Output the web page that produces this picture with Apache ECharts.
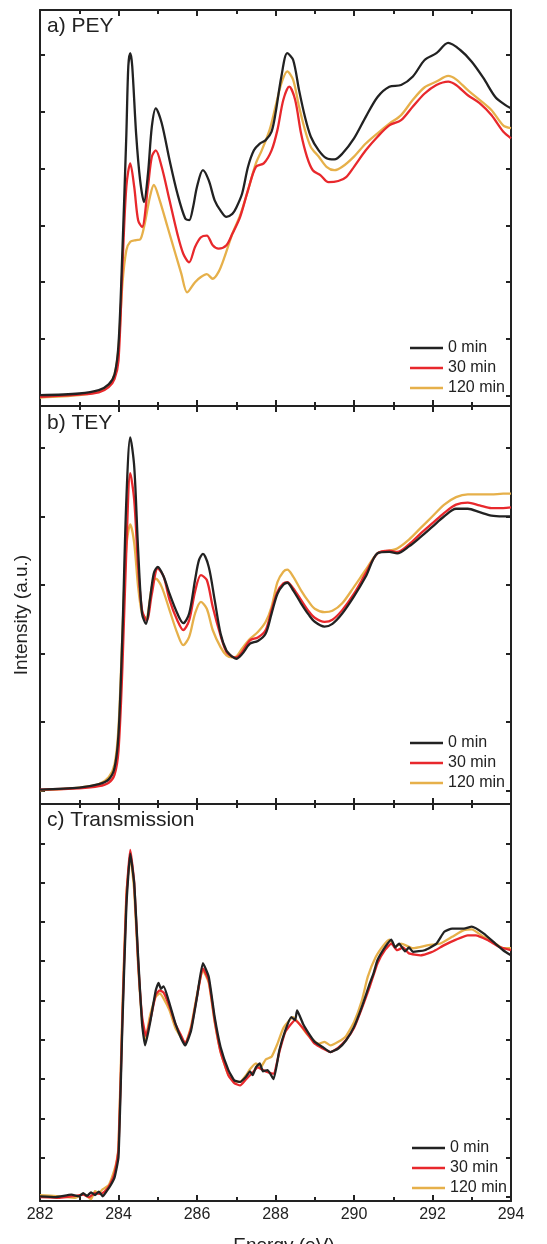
<!DOCTYPE html>
<html>
<head>
<meta charset="utf-8">
<title>NEXAFS spectra</title>
<script src="https://cdn.jsdelivr.net/npm/echarts@6/dist/echarts.min.js"></script>
<style>
  html, body { margin: 0; padding: 0; background: #fff; }
  #chart { width: 547px; height: 1244px; }
</style>
</head>
<body>
<div id="chart"></div>
<script>
// energy axis (eV)
const energyTicks = [282, 284, 286, 288, 290, 292, 294]
const seriesNames = ['0 min', '30 min', '120 min']
const panelTitles = ['a) PEY', 'b) TEY', 'c) Transmission']

// y tick positions (arbitrary units, no labels)
const peyTicks = [0, 1, 2, 3, 4, 5, 6]
const teyTicks = [0, 1, 2, 3, 4, 5]
const trTicks = [0, 1, 2, 3, 4, 5, 6, 7, 8, 9]

// a) PEY  [energy, intensity]
const pey0 = [[282,0.01],[283,0.04],[283.5,0.1],[283.75,0.2],[283.9,0.38],[284.0,0.9],[284.1,2.56],[284.2,4.6],[284.25,5.8],[284.3,6.03],[284.35,5.8],[284.45,4.6],[284.55,3.8],[284.65,3.41],[284.75,3.9],[284.85,4.74],[284.95,5.06],[285.1,4.8],[285.3,4.15],[285.5,3.56],[285.7,3.12],[285.8,3.09],[285.9,3.32],[286.0,3.68],[286.15,3.97],[286.3,3.79],[286.45,3.44],[286.6,3.26],[286.75,3.15],[286.9,3.2],[287.0,3.31],[287.15,3.56],[287.3,4.03],[287.45,4.32],[287.6,4.44],[287.75,4.5],[287.9,4.65],[288.0,4.97],[288.15,5.62],[288.3,6.03],[288.45,5.91],[288.6,5.38],[288.75,4.91],[288.9,4.56],[289.1,4.32],[289.3,4.18],[289.5,4.16],[289.7,4.26],[290.0,4.53],[290.3,4.91],[290.6,5.26],[290.9,5.44],[291.2,5.47],[291.5,5.62],[291.8,5.91],[292.1,6.03],[292.4,6.21],[292.7,6.09],[293.0,5.88],[293.3,5.59],[293.6,5.26],[293.85,5.12],[294,5.06]]
const pey30 = [[282,-0.02],[283,0.02],[283.5,0.06],[283.75,0.15],[283.9,0.3],[284.0,0.62],[284.1,2.26],[284.2,3.68],[284.3,4.09],[284.4,3.68],[284.5,3.09],[284.6,2.97],[284.75,3.68],[284.85,4.21],[284.95,4.32],[285.1,4.03],[285.3,3.44],[285.5,2.85],[285.65,2.5],[285.8,2.35],[285.95,2.62],[286.1,2.79],[286.25,2.82],[286.4,2.65],[286.55,2.59],[286.75,2.65],[286.9,2.85],[287.1,3.15],[287.3,3.62],[287.5,4.03],[287.7,4.09],[287.9,4.32],[288.05,4.68],[288.2,5.21],[288.35,5.44],[288.5,5.21],[288.65,4.62],[288.8,4.21],[288.95,3.97],[289.15,3.88],[289.35,3.76],[289.6,3.78],[289.8,3.85],[290.0,4.03],[290.3,4.32],[290.6,4.56],[290.9,4.76],[291.2,4.85],[291.5,5.09],[291.8,5.32],[292.1,5.47],[292.4,5.53],[292.6,5.47],[292.9,5.29],[293.2,5.15],[293.5,4.94],[293.8,4.65],[294,4.53]]
const pey120 = [[282,-0.03],[283,0.01],[283.5,0.08],[283.75,0.18],[283.9,0.38],[284.0,0.85],[284.1,1.97],[284.2,2.56],[284.3,2.71],[284.45,2.74],[284.55,2.75],[284.65,2.97],[284.8,3.5],[284.9,3.71],[285.05,3.44],[285.25,2.97],[285.45,2.5],[285.6,2.15],[285.75,1.82],[285.95,2.0],[286.1,2.09],[286.25,2.14],[286.4,2.06],[286.55,2.18],[286.7,2.44],[286.9,2.85],[287.1,3.18],[287.3,3.62],[287.5,4.09],[287.65,4.32],[287.85,4.68],[288.0,5.09],[288.15,5.5],[288.3,5.71],[288.45,5.56],[288.6,5.09],[288.75,4.68],[288.9,4.38],[289.1,4.21],[289.3,4.03],[289.5,3.97],[289.7,4.03],[290.0,4.21],[290.3,4.44],[290.6,4.62],[290.9,4.79],[291.2,4.94],[291.5,5.21],[291.8,5.43],[292.1,5.53],[292.4,5.63],[292.6,5.57],[292.9,5.38],[293.2,5.21],[293.5,5.03],[293.8,4.76],[294,4.71]]

// b) TEY
const tey0 = [[282,0.01],[283,0.04],[283.5,0.09],[283.75,0.16],[283.9,0.33],[284.0,0.82],[284.1,2.29],[284.2,4.24],[284.3,5.15],[284.4,4.73],[284.5,3.51],[284.6,2.58],[284.7,2.43],[284.8,2.78],[284.9,3.17],[285.0,3.26],[285.15,3.12],[285.3,2.87],[285.5,2.58],[285.65,2.44],[285.8,2.58],[285.95,3.07],[286.05,3.36],[286.15,3.45],[286.3,3.26],[286.45,2.78],[286.6,2.29],[286.75,2.04],[286.9,1.95],[287.0,1.92],[287.15,1.99],[287.35,2.14],[287.55,2.18],[287.75,2.29],[287.9,2.58],[288.05,2.87],[288.2,3.0],[288.3,3.03],[288.45,2.92],[288.65,2.73],[288.85,2.56],[289.0,2.46],[289.25,2.39],[289.45,2.43],[289.7,2.58],[290.0,2.83],[290.3,3.12],[290.6,3.46],[290.9,3.48],[291.1,3.46],[291.4,3.56],[291.7,3.7],[292.0,3.85],[292.3,4.0],[292.6,4.11],[292.9,4.11],[293.2,4.06],[293.5,4.01],[293.8,4.0],[294,4.0]]
const tey30 = [[282,0.01],[283,0.03],[283.5,0.06],[283.75,0.11],[283.9,0.23],[284.0,0.58],[284.1,1.8],[284.2,3.51],[284.3,4.63],[284.4,4.24],[284.5,3.26],[284.6,2.63],[284.72,2.48],[284.85,2.87],[285.0,3.24],[285.15,3.12],[285.3,2.78],[285.5,2.48],[285.65,2.34],[285.8,2.48],[285.95,2.9],[286.1,3.14],[286.25,3.07],[286.4,2.68],[286.6,2.26],[286.75,2.02],[286.9,1.95],[287.0,1.94],[287.15,2.02],[287.35,2.19],[287.55,2.23],[287.75,2.34],[287.9,2.63],[288.05,2.9],[288.2,3.02],[288.3,3.04],[288.45,2.95],[288.65,2.78],[288.85,2.61],[289.0,2.52],[289.25,2.46],[289.45,2.49],[289.7,2.63],[290.0,2.87],[290.3,3.17],[290.6,3.46],[290.9,3.5],[291.1,3.48],[291.4,3.59],[291.7,3.75],[292.0,3.9],[292.3,4.05],[292.6,4.17],[292.9,4.2],[293.2,4.16],[293.5,4.12],[293.8,4.12],[294,4.13]]
const tey120 = [[282,0.0],[283,0.04],[283.5,0.09],[283.75,0.19],[283.9,0.38],[284.0,0.92],[284.1,2.29],[284.2,3.56],[284.3,3.88],[284.4,3.61],[284.5,2.97],[284.6,2.58],[284.7,2.51],[284.85,2.97],[284.95,3.09],[285.1,2.97],[285.3,2.63],[285.5,2.29],[285.65,2.12],[285.8,2.24],[285.95,2.58],[286.1,2.75],[286.25,2.65],[286.4,2.34],[286.6,2.09],[286.75,1.97],[286.9,1.94],[287.0,1.95],[287.15,2.07],[287.35,2.21],[287.55,2.31],[287.75,2.46],[287.9,2.68],[288.05,3.04],[288.2,3.19],[288.3,3.22],[288.45,3.12],[288.65,2.92],[288.85,2.75],[289.0,2.65],[289.25,2.6],[289.45,2.62],[289.7,2.73],[290.0,2.97],[290.3,3.22],[290.6,3.46],[290.9,3.5],[291.1,3.53],[291.4,3.66],[291.7,3.83],[292.0,4.0],[292.3,4.17],[292.6,4.28],[292.9,4.32],[293.2,4.32],[293.5,4.32],[293.8,4.33],[294,4.33]]

// c) Transmission
const tr0 = [[282,0.02],[282.4,0.0],[282.8,0.06],[283.0,0.02],[283.1,0.1],[283.2,0.03],[283.3,0.12],[283.4,0.05],[283.5,0.14],[283.6,0.02],[283.7,0.15],[283.8,0.3],[283.9,0.5],[284.0,1.02],[284.1,4.41],[284.2,7.39],[284.3,8.74],[284.4,7.98],[284.5,6.11],[284.6,4.41],[284.68,3.86],[284.8,4.41],[284.95,5.26],[285.02,5.45],[285.08,5.3],[285.15,5.36],[285.3,4.92],[285.45,4.41],[285.6,4.03],[285.7,3.86],[285.85,4.24],[286.0,5.09],[286.15,5.95],[286.3,5.6],[286.45,4.58],[286.6,3.82],[286.8,3.23],[286.95,2.97],[287.1,2.93],[287.25,3.06],[287.35,3.2],[287.42,3.1],[287.5,3.3],[287.6,3.4],[287.68,3.2],[287.8,3.23],[287.95,3.0],[288.1,3.74],[288.25,4.24],[288.4,4.58],[288.5,4.5],[288.55,4.75],[288.7,4.41],[288.85,4.16],[289.0,3.95],[289.2,3.82],[289.4,3.69],[289.6,3.78],[289.8,3.99],[290.0,4.33],[290.2,4.84],[290.4,5.43],[290.5,5.7],[290.6,6.03],[290.8,6.37],[290.95,6.55],[291.05,6.35],[291.15,6.45],[291.3,6.25],[291.4,6.35],[291.5,6.24],[291.8,6.28],[292.1,6.45],[292.3,6.75],[292.5,6.83],[292.8,6.83],[293.0,6.88],[293.3,6.71],[293.6,6.45],[293.8,6.28],[294,6.15]]
const tr30 = [[282,0.0],[282.5,-0.02],[282.9,0.03],[283.1,0.06],[283.25,0.0],[283.4,0.1],[283.55,0.08],[283.7,0.2],[283.8,0.35],[283.9,0.6],[284.0,1.2],[284.1,4.6],[284.2,7.6],[284.3,8.83],[284.4,8.0],[284.5,6.0],[284.6,4.6],[284.7,4.1],[284.82,4.55],[284.95,5.15],[285.05,5.26],[285.15,5.2],[285.3,4.85],[285.45,4.4],[285.6,4.1],[285.7,3.9],[285.85,4.3],[286.0,5.1],[286.15,5.82],[286.3,5.5],[286.45,4.5],[286.6,3.7],[286.8,3.1],[286.95,2.9],[287.1,2.84],[287.25,3.0],[287.4,3.15],[287.55,3.3],[287.7,3.22],[287.8,3.18],[287.95,3.14],[288.1,3.7],[288.25,4.2],[288.5,4.5],[288.7,4.3],[288.85,4.1],[289.0,3.9],[289.2,3.78],[289.4,3.69],[289.6,3.8],[289.8,4.0],[290.0,4.3],[290.2,4.8],[290.4,5.35],[290.6,5.95],[290.8,6.3],[290.95,6.45],[291.1,6.28],[291.25,6.35],[291.4,6.2],[291.7,6.15],[292.0,6.24],[292.3,6.41],[292.6,6.55],[292.9,6.66],[293.1,6.66],[293.4,6.54],[293.7,6.37],[294,6.28]]
const tr120 = [[282,0.05],[282.5,0.02],[282.9,-0.02],[283.1,0.08],[283.3,-0.05],[283.4,0.15],[283.5,0.1],[283.6,0.2],[283.75,0.3],[283.85,0.55],[283.95,0.9],[284.0,1.3],[284.1,4.8],[284.2,7.7],[284.3,8.66],[284.4,7.8],[284.5,5.9],[284.6,4.5],[284.68,3.98],[284.8,4.6],[284.95,5.1],[285.05,5.18],[285.15,5.05],[285.3,4.75],[285.45,4.3],[285.6,4.05],[285.7,3.9],[285.85,4.35],[286.0,5.15],[286.15,5.77],[286.3,5.45],[286.45,4.45],[286.6,3.7],[286.8,3.1],[286.95,2.95],[287.1,2.93],[287.25,3.1],[287.35,3.25],[287.5,3.4],[287.62,3.3],[287.75,3.5],[287.9,3.57],[288.05,3.9],[288.2,4.3],[288.45,4.58],[288.65,4.35],[288.8,4.15],[288.95,4.0],[289.1,3.9],[289.25,3.95],[289.4,3.86],[289.6,3.95],[289.8,4.1],[290.0,4.45],[290.2,5.0],[290.35,5.6],[290.55,6.1],[290.75,6.4],[290.9,6.55],[291.05,6.37],[291.2,6.45],[291.5,6.33],[291.9,6.41],[292.2,6.45],[292.5,6.62],[292.8,6.79],[293.0,6.81],[293.3,6.62],[293.6,6.45],[293.8,6.33],[294,6.33]]

const colors = ['#222222', '#e8282c', '#e6b04a']
const font = 'Liberation Sans, Arial, sans-serif'

let chart = echarts.init(document.getElementById('chart'))

// panel boxes: top / height in px
const panels = [
  { top: 10, height: 396, min: -0.18, max: 6.79, ticks: peyTicks, data: [pey0, pey30, pey120], smooth: 0.3, legendTop: 340, legendLeft: 410, titleTop: 16 },
  { top: 406, height: 398, min: -0.2, max: 5.61, ticks: teyTicks, data: [tey0, tey30, tey120], smooth: 0.3, legendTop: 735, legendLeft: 410, titleTop: 413 },
  { top: 804, height: 397, min: -0.1, max: 10, ticks: trTicks, data: [tr0, tr30, tr120], smooth: 0.15, legendTop: 1140, legendLeft: 412, titleTop: 810 },
]

const lineCol = '#222'
// plain line used as legend key
const lineIcon = 'path://M0,0H33V2.4H0Z'
let grid = [], xAxis = [], yAxis = [], series = [], legend = [], title = []

panels.forEach((p, i) => {
  grid.push({ left: 40, right: 36, top: p.top, height: p.height, outerBoundsMode: 'none', containLabel: false })
  const isLast = i === panels.length - 1
  ;['bottom', 'top'].forEach((pos) => {
    xAxis.push({
      type: 'value',
      gridIndex: i,
      position: pos,
      min: energyTicks[0],
      max: energyTicks[energyTicks.length - 1],
      interval: 2,
      axisLine: { onZero: false, lineStyle: { color: lineCol, width: 2 } },
      axisTick: { inside: true, length: 6, lineStyle: { color: lineCol, width: 2 } },
      minorTick: { show: true, splitNumber: 2, length: 4, lineStyle: { color: lineCol, width: 2 } },
      splitLine: { show: false },
      axisLabel: {
        show: isLast && pos === 'bottom',
        color: '#222',
        fontSize: 16,
        fontFamily: font,
        margin: 6,
      },
      name: isLast && pos === 'bottom' ? 'Energy (eV)' : '',
      nameLocation: 'middle',
      nameGap: 35,
      nameTextStyle: { fontSize: 19, color: '#222', fontFamily: font, padding: [0, 0, 0, 17] },
    })
  })
  ;['left', 'right'].forEach((pos) => {
    yAxis.push({
      type: 'value',
      gridIndex: i,
      position: pos,
      min: p.min,
      max: p.max,
      axisLine: { show: true, onZero: false, lineStyle: { color: lineCol, width: 2 } },
      axisTick: { show: true, inside: true, length: 5, customValues: p.ticks, lineStyle: { color: lineCol, width: 2 } },
      axisLabel: { show: false },
      splitLine: { show: false },
    })
  })
  p.data.forEach((d, k) => {
    series.push({
      name: seriesNames[k],
      type: 'line',
      xAxisIndex: i * 2,
      yAxisIndex: i * 2,
      data: d,
      smooth: p.smooth,
      showSymbol: false,
      symbol: 'none',
      lineStyle: { color: colors[k], width: 2.3 },
      itemStyle: { color: colors[k] },
      z: 10 - k,
    })
  })
  legend.push({
    data: seriesNames.map((n) => ({ name: n, icon: lineIcon })),
    orient: 'vertical',
    left: p.legendLeft,
    top: p.legendTop,
    padding: 0,
    itemWidth: 33,
    itemHeight: 16,
    itemGap: 4,
    selectedMode: false,
    textStyle: { fontSize: 16, color: '#222', fontFamily: font, lineHeight: 16 },
  })
  title.push({
    text: panelTitles[i],
    left: 47,
    top: p.titleTop,
    padding: 0,
    textStyle: { fontSize: 21, fontWeight: 'normal', color: '#222', fontFamily: font },
  })
})

chart.setOption({
  animation: false,
  backgroundColor: '#fff',
  title: title,
  legend: legend,
  grid: grid,
  xAxis: xAxis,
  yAxis: yAxis,
  series: series,
  graphic: [
    {
      type: 'text',
      x: 22,
      y: 615,
      rotation: Math.PI / 2,
      style: {
        text: 'Intensity (a.u.)',
        font: '19px ' + font,
        fill: '#222',
        align: 'center',
        verticalAlign: 'middle',
      },
    },
  ],
})
</script>
</body>
</html>
